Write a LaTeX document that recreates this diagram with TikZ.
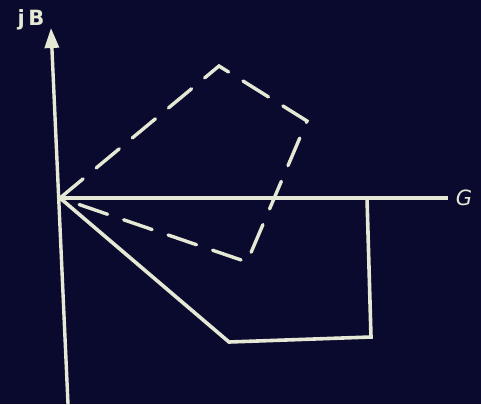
\documentclass[tikz,border=0pt]{standalone}
\usepackage{fontspec}
\setsansfont{DejaVu Sans}
\usetikzlibrary{arrows.meta}
\definecolor{bg}{HTML}{0A0A2E}
\definecolor{ink}{HTML}{E6E8D6}
\tikzset{
  axis/.style={ink, line width=3.4pt},
  solidpoly/.style={ink, line width=3.6pt, line join=miter},
  dashpoly/.style={ink, line width=3.4pt, dash pattern=on 30pt off 17pt, line cap=round},
  lbl/.style={text=ink, font=\sffamily\bfseries\fontsize{21}{21}\selectfont, inner sep=0pt}
}
\begin{document}
\begin{tikzpicture}[x=1pt,y=-1pt]
\fill[bg] (0,0) rectangle (481,404);
\useasboundingbox (0,0) rectangle (481,404);
\coordinate (O) at (60,198);
\coordinate (B) at (68,404);
\coordinate (T) at (51,28);
\coordinate (E) at (448,198);
\coordinate (S1) at (229,342);
\coordinate (S2) at (371,337);
\coordinate (S3) at (367,198);
\coordinate (D1) at (219,66);
\coordinate (D2) at (307,121);
\coordinate (D3) at (247,262);
\draw[axis, -{Triangle[width=14pt,length=20pt]}] (B) -- (T);
\draw[axis] (O) -- (E);
\draw[solidpoly] (O) -- (S1) -- (S2) -- (S3);
\draw[dashpoly] (O) -- (D1) -- (D2) -- (D3) -- (O);
\node[lbl] (jb) at (31,20) {j\,B};
\node[lbl, font=\sffamily\itshape\fontsize{21}{21}\selectfont] (g) at (464,198) {G};
\end{tikzpicture}
\end{document}
